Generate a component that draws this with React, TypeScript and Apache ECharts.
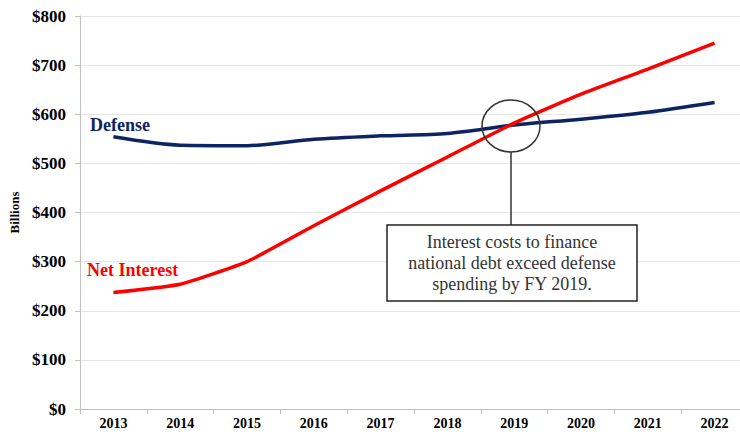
import React, { useEffect, useRef } from "react";
import * as echarts from "echarts";

const years = ["2013", "2014", "2015", "2016", "2017", "2018", "2019", "2020", "2021", "2022"];
const defense = [554, 537, 536, 549, 556, 561, 578, 590, 604, 624];
const netInterest = [237, 254, 300, 373, 444, 513, 582, 641, 692, 745];
const noteLines = ["Interest costs to finance", "national debt exceed defense", "spending by FY 2019."];

const SERIF = "'Liberation Serif', 'Times New Roman', serif";

export default function App() {
  const ref = useRef<HTMLDivElement>(null);
  useEffect(() => {
    if (!ref.current) return;
    const chart = echarts.init(ref.current, undefined, { renderer: "svg" });
    chart.setOption({
      animation: false,
      backgroundColor: "#ffffff",
      grid: { left: 80, top: 16, width: 668, height: 393, containLabel: false, outerBoundsMode: "none" },
      xAxis: {
        type: "category",
        data: years,
        boundaryGap: true,
        axisLine: { lineStyle: { color: "#bfbfbf" } },
        axisTick: { show: true, alignWithLabel: false, length: 5, lineStyle: { color: "#bfbfbf" } },
        axisLabel: { color: "#000", fontFamily: SERIF, fontWeight: "bold", fontSize: 14, margin: 7 },
      },
      yAxis: {
        type: "value",
        min: 0,
        max: 800,
        interval: 100,
        name: "Billions",
        nameLocation: "middle",
        nameGap: 58,
        nameRotate: 90,
        nameTextStyle: { color: "#000", fontFamily: SERIF, fontWeight: "bold", fontSize: 13 },
        axisLine: { show: true, lineStyle: { color: "#bfbfbf" } },
        axisTick: { show: true, length: 5, lineStyle: { color: "#bfbfbf" } },
        splitLine: { lineStyle: { color: "#e6e6e6" } },
        axisLabel: {
          color: "#000",
          fontFamily: SERIF,
          fontWeight: "bold",
          fontSize: 17,
          margin: 14,
          formatter: (v: number) => "$" + v,
        },
      },
      series: [
        {
          name: "Defense",
          type: "line",
          data: defense,
          smooth: 0.3,
          symbol: "none",
          lineStyle: { color: "#0d2463", width: 3.5 },
          z: 2,
        },
        {
          name: "Net Interest",
          type: "line",
          data: netInterest,
          smooth: 0.15,
          symbol: "none",
          lineStyle: { color: "#ff0000", width: 3.5 },
          z: 3,
        },
      ],
      graphic: [
        {
          type: "text",
          left: 90,
          top: 116,
          style: { text: "Defense", fill: "#0d2463", font: `bold 18px ${SERIF}` },
        },
        {
          type: "text",
          left: 87,
          top: 261,
          style: { text: "Net Interest", fill: "#ff0000", font: `bold 18px ${SERIF}` },
        },
        {
          type: "ellipse",
          shape: { cx: 511, cy: 126, rx: 29, ry: 26 },
          style: { fill: "none", stroke: "#333", lineWidth: 1.5 },
          z: 10,
        },
        {
          type: "line",
          shape: { x1: 511, y1: 152, x2: 511, y2: 225 },
          style: { stroke: "#333", lineWidth: 1.5 },
          z: 10,
        },
        {
          type: "rect",
          shape: { x: 387, y: 225, width: 250, height: 76 },
          style: { fill: "#ffffff", stroke: "#222", lineWidth: 1.5 },
          z: 10,
        },
        {
          type: "text",
          x: 512,
          y: 263,
          z: 11,
          style: {
            text: noteLines.join("\n"),
            fill: "#333",
            font: `18px ${SERIF}`,
            lineHeight: 21,
            align: "center",
            verticalAlign: "middle",
          },
        },
      ],
    });
    return () => chart.dispose();
  }, []);
  return <div ref={ref} style={{ width: 740, height: 432, position: "absolute", left: 0, top: 0 }} />;
}
